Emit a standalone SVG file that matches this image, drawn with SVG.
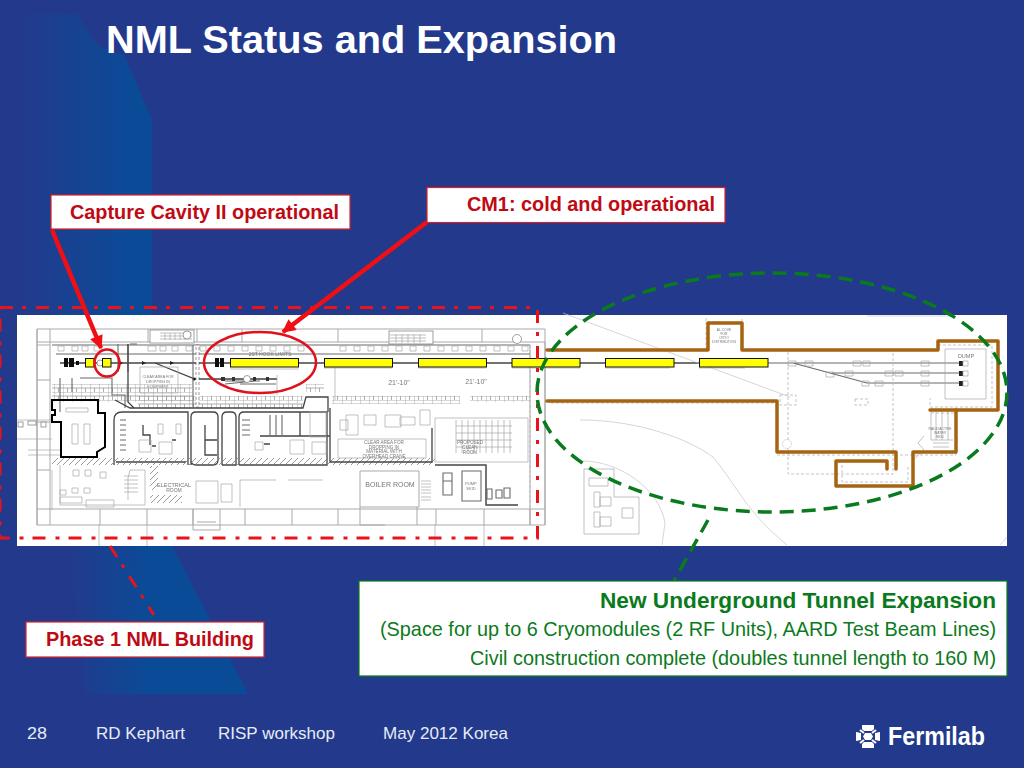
<svg xmlns="http://www.w3.org/2000/svg" width="1024" height="768" viewBox="0 0 1024 768">
<style>
text{font-family:"Liberation Sans",Arial,sans-serif}
.t{fill:#bf0a14;font-weight:700;font-size:20px}
.g{fill:#0b7a1d;font-size:19.800px}
.gb{fill:#0b7a1d;font-size:22.500px;font-weight:700}
.f{fill:#e6ecf6;font-size:17px}
.box{fill:#fff;stroke:#d9202a;stroke-width:1.2}
.w{fill:none;stroke:#a9a9a9;stroke-width:1}
.w2{fill:none;stroke:#6a6a6a;stroke-width:1.1}
.d{fill:none;stroke:#444;stroke-width:1.3}
.k{fill:none;stroke:#000;stroke-width:2}
.th{fill:none;stroke:#a8a8a8;stroke-width:.7}
.si{fill:none;stroke:#c4c4c4;stroke-width:.7}
.ds{fill:none;stroke:#b5b5b5;stroke-width:.8;stroke-dasharray:3 2}
.y{fill:#ffff00;stroke:#111;stroke-width:1}
.br{fill:none;stroke:#a5640f;stroke-width:3.500;stroke-linejoin:round;stroke-linecap:round}
.tiny{fill:#777;text-anchor:middle}
.ro{fill:#fff;stroke:#777;stroke-width:.7}
.red{fill:none;stroke:#e0101c;stroke-width:2.5}
.dd{fill:none;stroke:#e8141c;stroke-width:3;stroke-dasharray:13 9 4 10}
.gd{fill:none;stroke:#0a7a1e;stroke-width:3.5;stroke-dasharray:14 8}
.a{fill:none;stroke:#f00f14;stroke-width:4.500}
</style>
<defs>
<pattern id="brick" width="9" height="8" patternUnits="userSpaceOnUse"><path d="M0 0H9M0 0V8M4.5 4V8M0 4H9" fill="none" stroke="#9a9a9a" stroke-width=".8"/></pattern>
<pattern id="hatch" width="6" height="6" patternUnits="userSpaceOnUse"><path d="M0 6L6 0" stroke="#808080" stroke-width=".8"/></pattern>
<marker id="ah" viewBox="0 0 10 10" refX="9" refY="5" markerWidth="3.200" markerHeight="3" orient="auto"><path d="M0 0L10 5L0 10z" fill="#f00f14"/></marker>
<filter id="soft"><feGaussianBlur stdDeviation=".35"/></filter>
<linearGradient id="sw" gradientUnits="userSpaceOnUse" x1="20" y1="0" x2="135" y2="0"><stop offset="0" stop-color="#233a8c"/><stop offset="1" stop-color="#0a4b98"/></linearGradient>
<linearGradient id="sw2" gradientUnits="userSpaceOnUse" x1="70" y1="0" x2="150" y2="0"><stop offset="0" stop-color="#233a8c"/><stop offset="1" stop-color="#0a4b98"/></linearGradient>
</defs>

<rect id="background" width="1024" height="768" fill="#233a8c"/>
<path id="swoosh" d="M20 14H76L98 46L124 55L152 120V546H20z" fill="url(#sw)"/>
<path id="swoosh-lower" d="M70 546H172L248 694H86z" fill="url(#sw2)"/>

<text id="title" x="106" y="53" font-size="39.500" font-weight="700" fill="#fff" textLength="511" lengthAdjust="spacingAndGlyphs">NML Status and Expansion</text>

<g id="floorplan">
<rect x="17" y="315" width="990" height="231" fill="#fff"/>
<g filter="url(#soft)">
<!-- building shell -->
<path class="w" d="M37 329H545V525H37zM37 342H545M37 509H545"/>
<path class="w" d="M37 329V525M50 329V342M148 329V342M197 329V342M242 329V342M338 329V342M482 329V342M50 509V525M100 509V525M147 509V525M193 509V525M245 509V525M292 509V525M338 509V525M436 509V525M484 509V525M530 509V525"/>
<path class="w" d="M37 345H50M37 380H50M37 422H50M37 470H50M50 342V509M530 345V525M545 342V525"/>
<path class="w" d="M193 509V530H220V509M197 522H216"/>
<path class="th" d="M99 525V546M147 525V546M435 525V546M484 525V546"/>
<path class="th" d="M17 420H52M17 439H52M28 450H60M28 455H60"/>
<rect x="18" y="422" width="5" height="5" class="ro"/><rect x="28" y="421" width="8" height="4" class="ro"/><rect x="41" y="422" width="5" height="5" class="ro"/>
<!-- stairs -->
<rect x="150" y="330" width="44" height="13" class="ro"/>
<path class="th" d="M160 333H192M160 336H192M160 339H192M165 333V340M170 333V340M175 333V340M180 333V340M185 333V340"/>
<circle cx="187" cy="335" r="4" class="ro"/>
<rect x="389" y="331" width="44" height="13" class="ro"/>
<path class="th" d="M390 335H426M390 338H426M390 341H426M396 334V343M402 334V343M408 334V343M414 334V343M420 334V343"/>
<circle cx="517" cy="339" r="4.5" class="ro"/>
<!-- tunnel edge cells -->
<path class="w2" d="M52 345H530M56 354H530"/>
<path class="th" d="M58 346h6v5h-6zM72 346h6v5h-6zM82 346h6v5h-6zM94 346h6v5h-6zM148 346h8v5h-8zM160 346h6v5h-6zM172 346h6v5h-6zM186 346h6v5h-6zM200 346h6v5h-6zM214 346h6v5h-6zM228 346h6v5h-6zM242 346h6v5h-6zM256 346h6v5h-6zM270 346h6v5h-6zM284 346h6v5h-6zM298 346h6v5h-6zM340 346h6v5h-6zM354 346h6v5h-6zM368 346h6v5h-6zM382 346h6v5h-6zM396 346h6v5h-6zM410 346h6v5h-6zM424 346h6v5h-6zM438 346h6v5h-6zM452 346h6v5h-6zM466 346h6v5h-6zM480 346h6v5h-6zM494 346h6v5h-6zM508 346h6v5h-6zM522 346h6v5h-6z"/>
<!-- beamline -->
<path class="d" d="M60 363H230M299 363H324M392 363H418M486 363H512M580 363H605M674 363H699"/>
<path d="M64 358h4v9h-4zM69 358h5v9h-5zM76 361h3v4h-3zM215 358h4v9h-4zM220 358h4v9h-4z" fill="#111"/>
<circle cx="100" cy="363" r="3" class="ro"/>
<path d="M118 360l5 3l-5 3zM142 361l4 2l-4 2zM170 361l4 2l-4 2z" fill="#222"/>
<path class="d" d="M155 363L195 379H277"/>
<circle cx="194" cy="379" r="1.5" fill="#111"/>
<path class="w2" d="M218 379H277M225 384L255 381M225 381H260M240 384H276"/>
<circle cx="247" cy="379" r="3.5" class="ro"/>
<path d="M221 377h4v4h-4zM232 377h3v4h-3zM253 377h3v4h-3zM266 377h3v4h-3z" fill="#333"/>
<path class="th" d="M140 367H178V393H140zM277 375V395M335 368V400"/>
<text class="tiny" x="158" y="378" font-size="3.6">CLEAR AREA FOR</text><text class="tiny" x="158" y="383" font-size="3.6">DROPPING IN</text><text class="tiny" x="158" y="388" font-size="3.6">EQUIPMENT</text>
<text x="270" y="356" class="tiny" font-size="5">2ST HOOK LIMITS</text>
<text x="399" y="385" class="tiny" font-size="7">21'-10"</text><text x="476" y="384" class="tiny" font-size="7">21'-10"</text>
<path class="th" d="M230 369H299M324 368H392M418 368H486M512 368H580M605 368H670M699 368H745"/>
<!-- brick band -->
<rect x="52" y="384" width="140" height="18" fill="url(#brick)"/>
<rect x="138" y="396" width="165" height="12" fill="url(#brick)"/>
<rect x="306" y="384" width="18" height="8" fill="url(#brick)"/>
<rect x="332" y="396" width="128" height="8" fill="url(#brick)"/>
<rect x="470" y="396" width="60" height="6" fill="url(#brick)"/>
<path class="w2" d="M118 344V372M128 344V372M130 344H137M193 345V407M198 345V407M60 378V412M72 378V392M80 378H112V395H125V408"/>
<path class="d" d="M115 400L130 408H303L306 397H328V412"/>
<path class="d" d="M128 344V402L134 408"/>
<rect x="196" y="345" width="3" height="62" fill="#fff" stroke="#555" stroke-width=".6" stroke-dasharray="3 2"/>
<!-- black room -->
<path class="k" d="M52 400H98V413H105V447L97 452V457H61V422H52V415H55V410H52z"/>
<path class="th" d="M72 424h6v20h-6zM84 424h6v20h-6zM66 408h22v4h-22z"/>
<!-- corridors -->
<path class="d" d="M114 465V420Q114 412 122 412H188V465M116 462H186"/>
<path class="d" d="M191 465V417Q191 412 196 412H213Q218 412 218 417V460Q218 465 213 465H196Q191 465 191 460z"/>
<path class="d" d="M222 465V417Q222 412 227 412H231Q236 412 236 417V465H222"/>
<path class="d" d="M239 465V417Q239 412 244 412H327V465H239M260 436H300V412M300 436H330"/>
<path class="w2" d="M120 420h6M120 425h6M120 430h6M120 435h6M120 440h6M120 445h6M120 450h6M242 420h8M242 425h8M242 430h8M242 435h8M270 415v20M276 415v20M282 415v20"/>
<path class="d" d="M205 425V455H217M205 440H217M143 425V435H150V445"/>
<path class="th" d="M139 440h12v12h-12zM159 442h13v12h-13zM255 442h8v8h-8zM290 440h14v14h-14zM312 442h14v12h-14zM158 424h5v10h-5zM176 424h5v10h-5zM310 412h16v25h-16z"/>
<path class="d" d="M152 446h4M172 440h4M264 444h6"/>
<!-- hatched strip -->
<rect x="52" y="458" width="280" height="7" fill="url(#hatch)"/>
<rect x="330" y="458" width="105" height="7" fill="url(#hatch)"/>
<path class="d" d="M330 408V462H432V428"/>
<path class="d" d="M435 465H486V480M486 465V505H518"/>
<!-- crane room -->
<path class="th" d="M338 439H426V458H338zM435 418H528V462H435z"/>
<path class="th" d="M456 420v33M462 420v33M468 420v33M474 420v33M480 420v33M486 420v33M492 420v33M498 420v33M504 420v33M510 420v33M456 426H512M456 433H512M456 440H512M456 447H512"/>
<g class="tiny" font-size="4.6">
<text x="384" y="444">CLEAR AREA FOR</text><text x="384" y="448.5">DROPPING IN</text><text x="384" y="453">MATERIAL WITH</text><text x="384" y="457.5">OVERHEAD CRANE</text>
<text x="470" y="444">PROPOSED</text><text x="470" y="449">CLEAN</text><text x="470" y="454">ROOM</text>
</g>
<path class="th" d="M364 415h12v10h-12zM385 415h16v12h-16zM400 417h15v8h-15zM340 420h8v10h-8zM346 415h12v20h-12zM420 410h10v15h-10z"/>
<!-- lower rooms -->
<rect x="150" y="466" width="8" height="24" fill="url(#hatch)"/>
<rect x="150" y="495" width="32" height="8" fill="url(#hatch)"/>
<path class="th" d="M60 465V505H145V470H130L128 478V500M52 470V510"/>
<path class="th" d="M196 481h22v22h-22zM221 484h11v18h-11zM240 480H276M288 480H323M240 480V507M60 490h6v5h-6zM72 488h6v5h-6zM84 488h6v5h-6zM73 470h6v6h-6zM85 470h6v6h-6zM100 472h6v6h-6z"/>
<path class="th" d="M60 497h22v6h-22zM86 500h28v7h-28zM124 476H138M124 480H138M124 484H138M124 488H138M124 492H138"/>
<text class="tiny" x="174" y="487" font-size="5.500">ELECTRICAL</text><text class="tiny" x="174" y="492" font-size="5">ROOM</text>
<path class="w" d="M360 471H419V507H360zM360 507V525H385M417 507V525"/>
<path class="th" d="M421 487H431M421 481H431M421 484H431M421 490H431M421 493H431M421 497H431M421 500H431"/>
<text class="tiny" x="390" y="487" font-size="7">BOILER ROOM</text>
<path class="w2" d="M443 473h9v22h-9zM443 481h9M462 471h19v30h-19zM487 489h5v10h-5zM504 488h6v10h-6zM496 490h6v8h-6zM486 465V505"/>
<text class="tiny" x="471" y="485" font-size="4">PUMP</text><text class="tiny" x="471" y="490" font-size="4">SKID</text>
<path class="ds" d="M530 345V520"/>
<!-- expansion beamlines -->
<path class="w2" d="M768 363H960M793 363L867 383H960M832 373H960"/>
<path class="th" d="M788 361h8v5h-8zM805 361h8v5h-8zM853 361h8v5h-8zM863 361h7v5h-7zM921 361h8v5h-8zM826 372h8v5h-8zM845 371h8v5h-8zM885 371h8v5h-8zM895 371h8v5h-8zM921 371h8v5h-8zM862 381h7v5h-7zM875 381h8v5h-8zM921 381h8v5h-8z"/>
<path d="M959 361h4v5h-4zM959 371h4v5h-4zM959 381h4v5h-4z" fill="#222"/>
<path class="th" d="M963 361h5v5h-5zM963 371h5v5h-5zM963 381h5v5h-5z"/>
<path class="th" d="M945 349H986V399H945z"/>
<text class="tiny" x="966" y="358" font-size="5.500">DUMP</text>
<path class="ds" d="M788 352V474H893V352M706 318V322H742V318M706 322V350M742 322V350M938 345H992V407H930V398M780 395H796V405H780zM855 399h13v6h-13zM551 403H777V400M777 400V455H895M900 455H956V413H931"/>
<path class="ds" d="M842 465V482H908V465"/>
<path class="th" d="M931 410V440H953M936 411V440M942 411V440M948 411V440M933 443h16M933 447h16M924 436L918 443L924 450L915 458"/>
<text class="tiny" x="724" y="331" font-size="3.400">AL COVE</text><text class="tiny" x="724" y="335" font-size="3.400">FOR</text><text class="tiny" x="724" y="339" font-size="3.400">CRYO</text><text class="tiny" x="724" y="343" font-size="3.400">DISTRIBUTION</text>
<text class="tiny" x="940" y="430" font-size="3.400">RADIOACTIVE</text><text class="tiny" x="940" y="434" font-size="3.400">WATER</text><text class="tiny" x="940" y="438" font-size="3.400">SKID</text>
<circle cx="787" cy="444" r="4.5" fill="#fff" stroke="#999" stroke-width=".6" stroke-dasharray="1 1"/>
<!-- site -->
<path class="si" d="M563 313L790 397M867 316H950M580 420C640 420 690 440 713 457C740 490 745 510 787 545M580 461C620 460 660 490 665 523L662 545M1000 545L1007 537"/>
<path class="th" d="M584 469H614V497H639V534H584zM589 478H608V486H589zM594 492H600V507H594zM600 497H611V506H600zM594 512H600V527H594zM600 517H611V526H600zM622 508H633V518H622z"/>
</g>
</g>

<g id="tunnel-outline">
<path class="br" d="M547 350H708V323H742V350H938V341H998V410H930"/>
<path class="br" d="M956 410V452H913V486H836V461H887V469"/>
<path class="br" d="M547 401H777V452H896V469"/>
</g>

<g id="cryomodules">
<rect class="y" x="85.500" y="358.500" width="8.500" height="8.500"/>
<rect class="y" x="102.500" y="358.500" width="8.500" height="8.500"/>
<rect class="y" x="230.500" y="358.500" width="68" height="8.500"/>
<rect class="y" x="324.500" y="358.500" width="68" height="8.500"/>
<rect class="y" x="418.500" y="358.500" width="68" height="8.500"/>
<rect class="y" x="512" y="358.500" width="68" height="8.500"/>
<rect class="y" x="605.500" y="358.500" width="68.500" height="8.500"/>
<rect class="y" x="699.500" y="358.500" width="68.500" height="8.500"/>
</g>

<g id="connectors">
<path class="dd" d="M0 307.500H537.500V538H0V307.500"/>
<path class="dd" d="M110 546L154 615"/>
<ellipse class="red" cx="107" cy="363" rx="12.500" ry="13.500"/>
<ellipse class="red" cx="260" cy="362.500" rx="56" ry="30.500"/>
<ellipse class="gd" cx="772" cy="392.500" rx="235" ry="119.500"/>
<path class="gd" d="M708 520L674 581"/>
<path class="a" marker-end="url(#ah)" d="M52 230L101 348"/>
<path class="a" marker-end="url(#ah)" d="M427 222L283 332"/>
</g>

<g id="label-capture"><rect class="box" x="51" y="195" width="299" height="34"/><text class="t" x="70" y="219" textLength="269" lengthAdjust="spacingAndGlyphs">Capture Cavity II operational</text></g>
<g id="label-cm1"><rect class="box" x="427" y="187.500" width="298" height="35"/><text class="t" x="467" y="211" textLength="248" lengthAdjust="spacingAndGlyphs">CM1: cold and operational</text></g>
<g id="label-phase1"><rect class="box" x="26" y="622" width="238" height="35"/><text class="t" x="46" y="646" textLength="208" lengthAdjust="spacingAndGlyphs">Phase 1 NML Building</text></g>
<g id="label-tunnel"><rect x="359" y="581" width="648" height="95" fill="#fff" stroke="#0b7a1d" stroke-width="1.200"/>
<text class="gb" x="600" y="608" textLength="396" lengthAdjust="spacingAndGlyphs">New Underground Tunnel Expansion</text>
<text class="g" x="380" y="636" textLength="616" lengthAdjust="spacingAndGlyphs">(Space for up to 6 Cryomodules (2 RF Units), AARD Test Beam Lines)</text>
<text class="g" x="470" y="665" textLength="526" lengthAdjust="spacingAndGlyphs">Civil construction complete (doubles tunnel length to 160 M)</text></g>

<g id="footer">
<text class="f" x="27" y="739" textLength="20" lengthAdjust="spacingAndGlyphs">28</text>
<text class="f" x="96" y="739" textLength="89" lengthAdjust="spacingAndGlyphs">RD Kephart</text>
<text class="f" x="218" y="739" textLength="117" lengthAdjust="spacingAndGlyphs">RISP workshop</text>
<text class="f" x="383" y="739" textLength="125" lengthAdjust="spacingAndGlyphs">May 2012 Korea</text>
</g>
<g id="fermilab-logo" fill="#fff">
<path d="M862 725h12v4l-2 2h-8l-2-2zM862 748h12v-4l-2-2h-8l-2 2zM856 732l5 1v7l-5 1zM880 732l-5 1v7l5 1z"/>
<path d="M860 730l4 3M876 730l-4 3M860 743l4-3M876 743l-4-3" stroke="#fff" stroke-width="2"/>
<path d="M865 733h6l2 3.500l-2 3.500h-6l-2-3.500z"/>
<text x="888" y="745" font-size="25" font-weight="700" textLength="97" lengthAdjust="spacingAndGlyphs">Fermilab</text>
</g>
</svg>
